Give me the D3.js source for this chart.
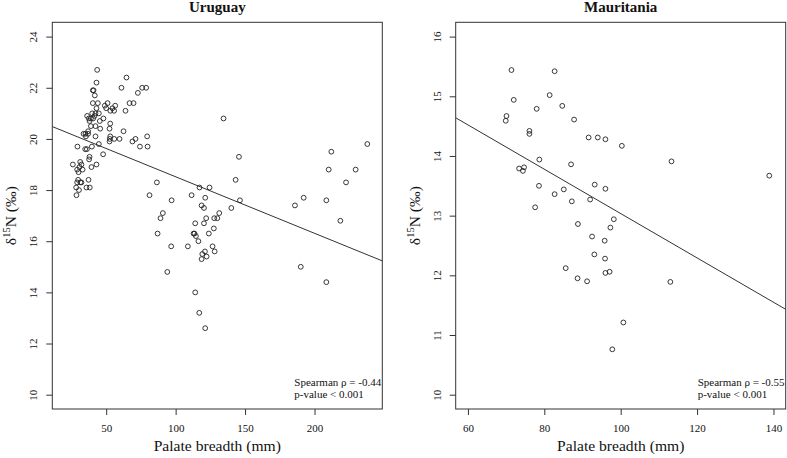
<!DOCTYPE html>
<html><head><meta charset="utf-8">
<script src="https://cdn.jsdelivr.net/npm/d3@7"></script>
<style>
html,body{margin:0;padding:0;background:#fff;}
svg text{font-family:"Liberation Serif","Times New Roman",Times,"DejaVu Serif",serif !important;}
</style></head>
<body>
<svg id="chart" width="787" height="458"></svg>
<script>
// ---- Data: Uruguay ----
const uruguayX = [43.5,64.6,43.0,61.0,75.9,78.8,40.4,40.9,72.8,41.8,66.8,69.7,40.4,44.0,51.0,49.0,56.5,54.5,50.0,43.0,53.0,55.7,63.9,36.3,39.9,44.7,42.3,39.0,40.6,48.0,37.5,41.6,45.4,38.0,52.9,39.0,42.3,45.7,52.4,37.0,62.5,35.1,33.7,37.0,42.3,52.9,79.5,35.4,52.6,59.6,55.8,71.1,52.4,68.9,39.7,29.3,74.3,79.8,44.7,34.9,36.1,47.8,38.0,37.7,31.3,26.0,32.2,43.0,30.8,39.4,33.0,29.1,30.1,29.8,37.3,31.4,29.1,32.2,28.4,35.8,38.2,30.4,28.6,
  86.5,81.2,97.1,90.8,89.1,87.0,96.8,94.0,134.5,117.2,124.4,111.5,121.3,143.2,146.3,140.1,118.7,120.4,131.4,127.8,122.0,130.0,114.1,120.4,127.5,112.9,113.6,123.9,114.6,116.4,108.8,126.6,121.1,128.1,119.2,122.3,118.7,114.1,117.0,121.3,145.6,
  238.0,212.1,210.2,229.6,222.7,192.2,185.9,208.5,218.6,190.1,208.5];
const uruguayY = [22.7,22.4,22.2,22.0,22.0,22.0,21.9,21.9,21.8,21.7,21.4,21.4,21.4,21.4,21.4,21.3,21.3,21.2,21.2,21.2,21.1,21.1,21.1,20.9,21.0,21.0,21.0,20.8,20.8,20.8,20.8,20.9,20.7,20.7,20.6,20.5,20.5,20.4,20.4,20.3,20.3,20.2,20.2,20.2,20.1,20.1,20.1,20.1,20.0,20.0,20.0,20.0,19.9,19.9,19.7,19.7,19.7,19.7,19.8,19.6,19.6,19.4,19.3,19.2,19.1,19.0,19.0,19.0,18.9,18.9,18.8,18.8,18.7,18.4,18.4,18.3,18.3,18.3,18.1,18.1,18.1,18.0,17.8,
  18.3,17.8,17.6,17.1,16.9,16.3,15.8,14.8,20.8,18.1,18.1,17.8,17.7,18.4,17.6,17.3,17.4,17.3,17.1,16.9,16.9,16.9,16.7,16.7,16.5,16.3,16.3,16.3,16.2,16.0,15.8,15.8,15.6,15.6,15.5,15.4,15.3,14.0,13.2,12.6,19.3,
  19.8,19.5,18.8,18.8,18.3,17.7,17.4,17.6,16.8,15.0,14.4];
// ---- Data: Mauritania ----
const mauritaniaX = [71.4,82.7,81.4,72.0,84.7,78.0,70.1,69.9,87.8,76.1,76.1,91.6,94.0,96.0,100.3,113.3,78.7,87.0,138.9,73.4,74.4,74.7,78.6,93.2,96.0,85.1,82.7,92.0,87.2,77.6,98.2,97.3,88.8,92.5,95.8,93.1,95.9,85.6,97.1,96.0,88.7,91.2,113.0,100.7,97.8];
const mauritaniaY = [15.44,15.42,15.02,14.94,14.84,14.79,14.67,14.59,14.61,14.42,14.37,14.31,14.31,14.28,14.17,13.91,13.94,13.86,13.67,13.79,13.75,13.81,13.50,13.52,13.45,13.44,13.36,13.27,13.24,13.14,12.94,12.80,12.86,12.65,12.58,12.35,12.28,12.12,12.06,12.04,11.95,11.90,11.89,11.21,10.76];

// ---- Axis limits, ticks, fits, labels ----
const panelTitles = ["Uruguay","Mauritania"];
const xLims = [[20,240],[60,140]];
const yLims = [[10,24],[10,16]];
const xTicks = [[50,100,150,200],[60,80,100,120,140]];
const yTicks = [[10,12,14,16,18,20,22,24],[10,11,12,13,14,15,16]];
const fitIntercept = [20.73, 16.75];
const fitSlope = [-0.0221, -0.03715];
const statLines = [["Spearman \u03C1 = -0.44","p-value < 0.001"],["Spearman \u03C1 = -0.55","p-value < 0.001"]];
const xLabel = "Palate breadth (mm)";

const panels = [
  {x: uruguayX, y: uruguayY, left: 52.3, right: 382.3},
  {x: mauritaniaX, y: mauritaniaY, left: 455.7, right: 785.7}
];
const plotTop = 22.3, plotBottom = 409;
const svg = d3.select("#chart");
const ink = "#333";
const serif = "'Liberation Serif','Times New Roman',Times,'DejaVu Serif',serif";

function pad(l){ const r=(l[1]-l[0])*0.04; return [l[0]-r, l[1]+r]; }

panels.forEach((p,i)=>{
  const x = d3.scaleLinear().domain(pad(xLims[i])).range([p.left,p.right]);
  const y = d3.scaleLinear().domain(pad(yLims[i])).range([plotBottom,plotTop]);
  const g = svg.append("g").attr("font-family",serif);
  const cid = "clip"+i;
  svg.append("clipPath").attr("id",cid).append("rect")
    .attr("x",p.left).attr("y",plotTop).attr("width",p.right-p.left).attr("height",plotBottom-plotTop);

  // x axis
  const xa = g.append("g").attr("transform",`translate(0,${plotBottom})`)
    .call(d3.axisBottom(x).tickValues(xTicks[i]).tickSize(6).tickPadding(9).tickFormat(d3.format("d")));
  xa.attr("font-family",serif);
  xa.select(".domain").remove();
  xa.selectAll("line").attr("stroke",ink);
  xa.selectAll("text").attr("font-size","11px").attr("fill","#111");
  // y axis
  const ya = g.append("g").attr("transform",`translate(${p.left},0)`)
    .call(d3.axisLeft(y).tickValues(yTicks[i]).tickSize(6).tickFormat(d3.format("d")));
  ya.attr("font-family",serif);
  ya.select(".domain").remove();
  ya.selectAll("line").attr("stroke",ink);
  ya.selectAll("text").remove();
  ya.selectAll(".tick").append("text")
    .attr("transform","translate(-15,0) rotate(-90)")
    .attr("text-anchor","middle")
    .attr("font-size","11px").attr("fill","#111")
    .text(d=>d);

  // box
  g.append("rect").attr("x",p.left).attr("y",plotTop).attr("width",p.right-p.left).attr("height",plotBottom-plotTop)
    .attr("fill","none").attr("stroke",ink).attr("stroke-width",1);

  // fit line
  const xd = x.domain();
  g.append("line").attr("clip-path",`url(#${cid})`)
    .attr("x1",x(xd[0])).attr("y1",y(fitIntercept[i]+fitSlope[i]*xd[0]))
    .attr("x2",x(xd[1])).attr("y2",y(fitIntercept[i]+fitSlope[i]*xd[1]))
    .attr("stroke",ink).attr("stroke-width",1);

  // points
  g.selectAll("circle.pt").data(d3.range(p.x.length)).join("circle")
    .attr("class","pt")
    .attr("cx",k=>x(p.x[k])).attr("cy",k=>y(p.y[k])).attr("r",2.4)
    .attr("fill","none").attr("stroke","#222").attr("stroke-width",0.9);

  // title
  g.append("text").attr("x",(p.left+p.right)/2).attr("y",11.5)
    .attr("text-anchor","middle").attr("font-weight","bold").attr("font-size","15px").attr("fill","#111")
    .text(panelTitles[i]);

  // x label
  g.append("text").attr("x",(p.left+p.right)/2).attr("y",451)
    .attr("text-anchor","middle").attr("font-size","15.6px").attr("fill","#111").text(xLabel);

  // y label
  const yl = g.append("text").attr("transform",`translate(${p.left-36},${(plotTop+plotBottom)/2}) rotate(-90)`)
    .attr("text-anchor","middle").attr("font-size","15.6px").attr("fill","#111");
  yl.append("tspan").text("\u03B4");
  yl.append("tspan").attr("font-size","10.5px").attr("dy","-6").text("15");
  yl.append("tspan").attr("dy","6").text("N (\u2030)");

  // stats
  const sx = p.right - 88;
  statLines[i].forEach((t,j)=>{
    g.append("text").attr("x",sx).attr("y",386+j*11.5).attr("font-size","11px").attr("fill","#111").text(t);
  });
});
</script>
</body></html>
